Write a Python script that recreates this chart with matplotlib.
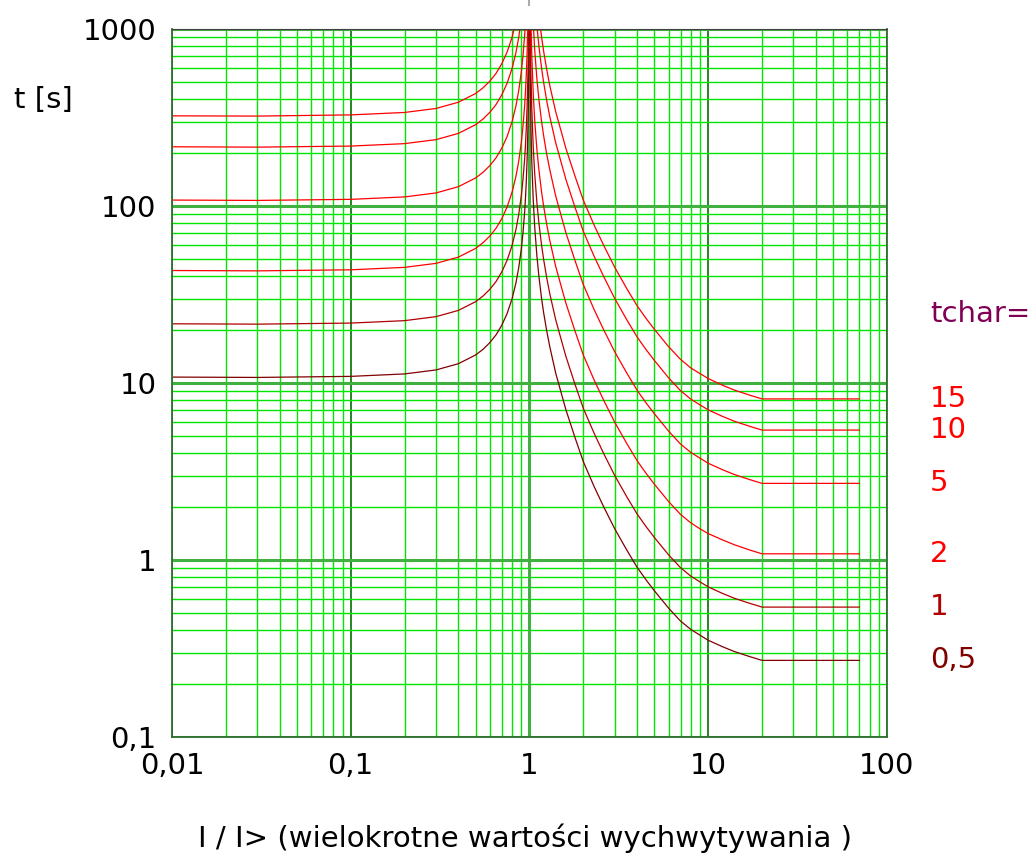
import numpy as np
import matplotlib
matplotlib.use('Agg')
import matplotlib.pyplot as plt
import matplotlib.transforms as mtransforms

# %% data
tchar = ['0,5', '1', '2', '5', '10', '15']
colors = ['#800000', '#b00000', '#ff0000', '#ff0000', '#ff0000', '#ff0000']

# left branch (I < 1)
I_left = [0.01, 0.03, 0.1, 0.2, 0.3, 0.4, 0.5, 0.55, 0.6, 0.65, 0.7, 0.75, 0.8,
          0.84, 0.87, 0.9, 0.92, 0.94, 0.95, 0.96, 0.97, 0.98, 0.985, 0.99, 0.995, 0.998]
t_left_05 = [10.8, 10.75, 10.9, 11.25, 11.85, 12.85, 14.4, 15.5, 16.9, 18.7, 21.2, 24.7, 30,
             36.75, 44.5, 57, 70.5, 92.5, 111, 137.5, 182.5, 272.5, 362.5, 542.5, 1085, 2700]
t_left_1 = [21.6, 21.5, 21.8, 22.5, 23.7, 25.7, 28.8, 31.0, 33.8, 37.4, 42.4, 49.4, 60,
            73.5, 89, 114, 141, 185, 222, 275, 365, 545, 725, 1085, 2170, 5400]
t_left_2 = [43.2, 43.0, 43.6, 45.0, 47.4, 51.4, 57.6, 62.0, 67.6, 74.8, 84.8, 98.8, 120,
            147, 178, 228, 282, 370, 444, 550, 730, 1090, 1450, 2170, 4340, 10800]
t_left_5 = [108, 107.5, 109, 112.5, 118.5, 128.5, 144, 155, 169, 187, 212, 247, 300,
            367.5, 445, 570, 705, 925, 1110, 1375, 1825, 2725, 3625, 5425, 10850, 27000]
t_left_10 = [216, 215, 218, 225, 237, 257, 288, 310, 338, 374, 424, 494, 600,
             735, 890, 1140, 1410, 1850, 2220, 2750, 3650, 5450, 7250, 10850, 21700, 54000]
t_left_15 = [323, 322, 327, 337.5, 355.5, 385.5, 432, 465, 507, 561, 636, 741, 900,
             1102, 1335, 1710, 2115, 2775, 3330, 4125, 5475, 8175, 10875, 16275, 32550, 81000]

# right branch (I > 1), flat beyond 20
I_right = [1.002, 1.005, 1.01, 1.02, 1.03, 1.05, 1.07, 1.1, 1.13, 1.17, 1.2, 1.25, 1.3,
           1.4, 1.5, 1.6, 1.8, 2.0, 2.3, 2.6, 3.0, 3.5, 4.0, 4.5, 5.0, 6.0, 7.0, 8.0,
           9.0, 10, 12, 14, 17, 20, 70]
t_right_05 = [2750, 1097, 547, 272, 180, 107.5, 76, 52.5, 39.8, 29.8, 25, 19.6, 16.0,
              11.45, 8.9, 7.05, 4.9, 3.6, 2.6, 2.0, 1.5, 1.14, 0.91, 0.77, 0.67, 0.535, 0.452, 0.405,
              0.376, 0.352, 0.324, 0.304, 0.285, 0.271, 0.271]
t_right_1 = [5500, 2195, 1095, 545, 361, 215, 152, 105, 79.5, 59.6, 50, 39.1, 31.9,
             22.9, 17.8, 14.1, 9.8, 7.2, 5.2, 4.0, 3.0, 2.28, 1.82, 1.54, 1.34, 1.07, 0.905, 0.81,
             0.752, 0.705, 0.648, 0.608, 0.57, 0.542, 0.542]
t_right_2 = [11000, 4390, 2190, 1090, 722, 430, 304, 210, 159, 119, 100, 78.2, 63.8,
             45.8, 35.6, 28.2, 19.6, 14.4, 10.4, 8.0, 6.0, 4.56, 3.64, 3.08, 2.68, 2.14, 1.81, 1.62,
             1.50, 1.41, 1.30, 1.22, 1.14, 1.084, 1.084]
t_right_5 = [27500, 10975, 5475, 2725, 1805, 1075, 760, 525, 397, 298, 250, 195, 160,
             114.5, 89, 70.5, 49, 36, 26, 20, 15, 11.4, 9.1, 7.7, 6.7, 5.35, 4.52, 4.05,
             3.76, 3.52, 3.24, 3.04, 2.85, 2.71, 2.71]
t_right_10 = [55000, 21950, 10950, 5450, 3610, 2150, 1520, 1050, 795, 596, 500, 391, 319,
              229, 178, 141, 98, 72, 52, 40, 30, 22.8, 18.2, 15.4, 13.4, 10.7, 9.05, 8.1,
              7.52, 7.05, 6.48, 6.08, 5.7, 5.42, 5.42]
t_right_15 = [82500, 32900, 16400, 8175, 5415, 3225, 2280, 1575, 1190, 894, 750, 587, 478,
              343, 267, 211, 147, 108, 78, 60, 45, 34.2, 27.3, 23.1, 20.1, 16.05, 13.6, 12.15,
              11.3, 10.6, 9.72, 9.12, 8.55, 8.13, 8.13]

left = [t_left_05, t_left_1, t_left_2, t_left_5, t_left_10, t_left_15]
right = [t_right_05, t_right_1, t_right_2, t_right_5, t_right_10, t_right_15]

x_ticks = [0.01, 0.1, 1, 10, 100]
x_labels = ['0,01', '0,1', '1', '10', '100']
y_ticks = [0.1, 1, 10, 100, 1000]
y_labels = ['0,1', '1', '10', '100', '1000']

# %% figure
fig = plt.figure(figsize=(10.34, 8.57), dpi=100)
ax = fig.add_axes([0.1663, 0.14, 0.6915, 0.8262])
ax.set_xscale('log')
ax.set_yscale('log')
ax.set_xlim(0.01, 100)
ax.set_ylim(0.1, 1000)

# grid
ax.grid(which='minor', axis='both', color='#00e600', lw=1.0)
ax.grid(which='major', axis='y', color='#40b040', lw=2.2)
ax.grid(which='major', axis='x', color='#007000', lw=1.2)
ax.axvline(1, color='#40b040', lw=2.2, zorder=1.5)
ax.set_axisbelow(True)

for tl, tr, c in zip(left, right, colors):
    ax.plot(I_left, tl, color=c, lw=0.9, zorder=2)
    ax.plot(I_right, tr, color=c, lw=0.9, zorder=2)

# small grey mark above the frame
ax.axvline(1, ymin=1.034, ymax=1.042, color='#aaaaaa', lw=1.5, clip_on=False)

ax.set_xticks(x_ticks)
ax.set_xticklabels(x_labels)
ax.set_yticks(y_ticks)
ax.set_yticklabels(y_labels)
ax.tick_params(which='both', length=0, labelsize=21)
ax.tick_params(axis='x', pad=11)
ax.tick_params(axis='y', pad=11)

for s in ['left', 'bottom', 'right']:
    ax.spines[s].set_color('#2f6f2f')
    ax.spines[s].set_linewidth(1.3)
ax.spines['top'].set_color('#404040')

# curve labels on the right
trans = mtransforms.blended_transform_factory(ax.transAxes, ax.transData)
for lab, tr, c in zip(tchar, right, colors):
    ax.text(1.06, tr[-1], lab, transform=trans, color=c, fontsize=21,
            ha='left', va='center')
ax.text(1.06, 24.5, 'tchar=', transform=trans, color='#800055', fontsize=21,
        ha='left', va='center')

fig.text(0.0135, 0.883, 't [s]', fontsize=21, ha='left', va='center')
fig.text(0.508, 0.022, 'I / I> (wielokrotne wartości wychwytywania )', fontsize=21,
         ha='center', va='center')

plt.savefig('out.png', dpi=100)
